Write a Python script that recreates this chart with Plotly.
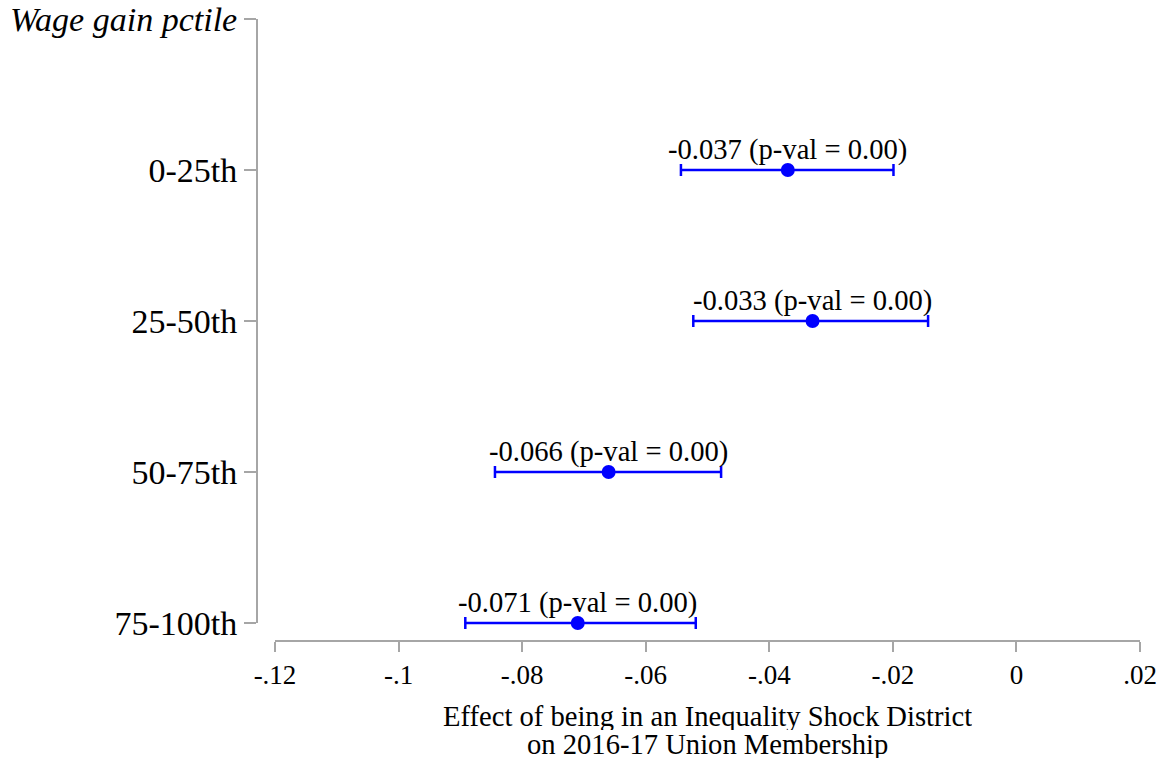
import plotly.graph_objects as go

# Coefficient estimates by wage-gain percentile group (top to bottom)
groups = ["0-25th", "25-50th", "50-75th", "75-100th"]
coef = [-0.037, -0.033, -0.066, -0.071]
ci_low = [-0.0543, -0.0523, -0.0844, -0.0892]
ci_high = [-0.0199, -0.0143, -0.0478, -0.0519]
pvals = [0.00, 0.00, 0.00, 0.00]

x_ticks = [-0.12, -0.10, -0.08, -0.06, -0.04, -0.02, 0.0, 0.02]
x_ticktext = ["-.12", "-.1", "-.08", "-.06", "-.04", "-.02", "0", ".02"]
y_header = "Wage gain pctile"

W, H = 1166, 759
FONT = "Liberation Serif"
BLUE = "#0000ff"
AXIS_GRAY = "#a6a6a6"

# pixel layout of the plotting region
X_LEFT, X_RIGHT = 275, 1140
Y_TOP, Y_LAST, Y_XAXIS = 19, 623, 641
Y_AXIS_X = 257

n = len(groups)
ypos = [n - 1 - i for i in range(n)]  # 0-25th at top
unit = (Y_LAST - Y_TOP) / n
y_bottom = -(Y_XAXIS - Y_LAST) / unit

err_plus = [h - c for h, c in zip(ci_high, coef)]
err_minus = [c - l for c, l in zip(coef, ci_low)]

fig = go.Figure()
fig.add_trace(go.Scatter(
    x=coef, y=ypos, mode="markers",
    marker=dict(color=BLUE, size=14),
    error_x=dict(type="data", symmetric=False, array=err_plus,
                 arrayminus=err_minus, color=BLUE, thickness=2.5, width=6),
    cliponaxis=False, showlegend=False, hoverinfo="skip",
))
# empty trace that carries the labelled category axis
fig.add_trace(go.Scatter(x=[None], y=[None], xaxis="x", yaxis="y2",
                         showlegend=False, hoverinfo="skip"))

for c, y, p in zip(coef, ypos, pvals):
    fig.add_annotation(
        x=c, y=y, xref="x", yref="y",
        text=f"{c:.3f} (p-val = {p:.2f})",
        showarrow=False, xanchor="center", yanchor="bottom", yshift=2,
        font=dict(family=FONT, size=28.6, color="black"),
    )

# Axis title as two separately placed lines
title_lines = ["Effect of being in an Inequality Shock District",
               "on 2016-17 Union Membership"]
for line, py in zip(title_lines, [716, 744]):
    fig.add_annotation(
        x=(X_LEFT + X_RIGHT) / 2 / W, y=1 - py / H, xref="paper", yref="paper",
        text=line, showarrow=False, xanchor="center", yanchor="middle",
        height=28, valign="middle",
        font=dict(family=FONT, size=28.6, color="black"),
    )

fig.update_layout(
    width=W, height=H,
    margin=dict(l=0, r=0, t=0, b=0, autoexpand=False),
    paper_bgcolor="white", plot_bgcolor="rgba(0,0,0,0)",
    font=dict(family=FONT, color="black"),
    xaxis=dict(
        domain=[X_LEFT / W, X_RIGHT / W], range=[-0.12, 0.02],
        anchor="free", position=1 - Y_XAXIS / H, automargin=False,
        tickvals=x_ticks, ticktext=x_ticktext,
        ticks="outside", ticklen=10, tickwidth=2, tickcolor=AXIS_GRAY,
        showline=True, linecolor=AXIS_GRAY, linewidth=2,
        showgrid=False, zeroline=False,
        tickfont=dict(family=FONT, size=27, color="black"),
        ticklabelstandoff=0,
    ),
    yaxis=dict(
        domain=[1 - Y_XAXIS / H, 1 - Y_TOP / H], range=[y_bottom, n],
        visible=False, automargin=False, fixedrange=True,
    ),
    yaxis2=dict(
        domain=[1 - Y_LAST / H, 1 - Y_TOP / H], range=[0, n],
        anchor="free", position=Y_AXIS_X / W, automargin=False,
        tickvals=ypos + [n], ticktext=groups + [f"<i>{y_header}</i>"],
        ticks="outside", ticklen=12, tickwidth=2, tickcolor=AXIS_GRAY,
        showline=True, linecolor=AXIS_GRAY, linewidth=2,
        showgrid=False, zeroline=False,
        tickfont=dict(family=FONT, size=34, color="black"),
        ticklabelstandoff=0,
    ),
)

fig.write_html("out.html")
